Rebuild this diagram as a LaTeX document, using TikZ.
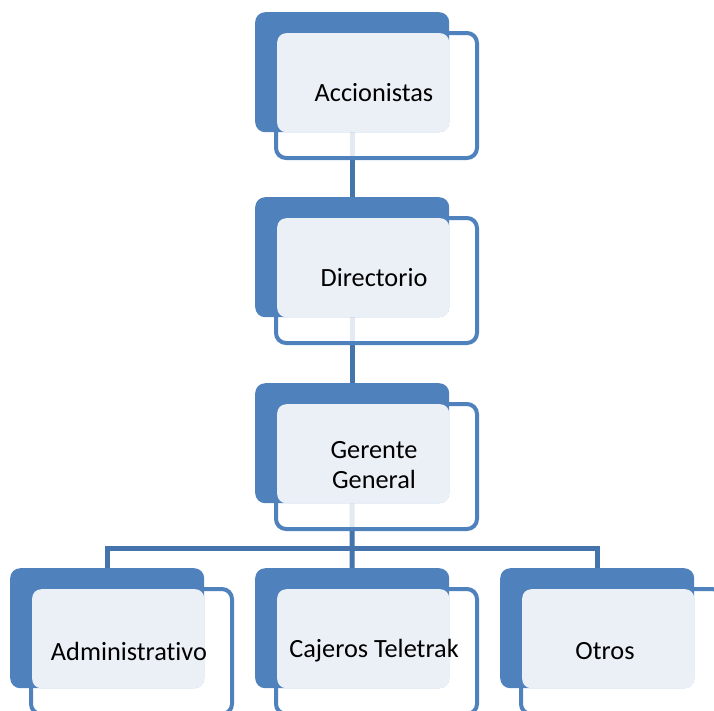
\documentclass[tikz,border=0pt]{standalone}
\usepackage{fontspec}
\setmainfont{Carlito}[Ligatures={NoCommon}]
\usetikzlibrary{backgrounds}
\definecolor{accent}{HTML}{4F81BD}
\definecolor{connc}{HTML}{4573AB}
\definecolor{lightc}{HTML}{EBF0F7}
\tikzset{
  darkbox/.style={fill=accent, draw=none, rounded corners=10pt, anchor=north west, inner sep=0pt, minimum width=194pt, minimum height=120pt},
  framebox/.style={fill=white, fill opacity=0.85, draw=accent, line width=4pt, rounded corners=10pt, anchor=north west, inner sep=0pt, minimum width=201pt, minimum height=125pt},
  lightbox/.style={fill=lightc, draw=none, rounded corners=9pt, anchor=north west, inner sep=0pt, minimum width=172pt, minimum height=99pt},
  label/.style={font=\fontsize{26.3}{30}\selectfont, text=black, align=center, inner sep=0pt},
  conn/.style={draw=connc, line width=5pt, line join=miter}
}
\begin{document}
\begin{tikzpicture}[x=1pt, y=-1pt]
\useasboundingbox (0,0) rectangle (714,710);
\clip (0,0) rectangle (714,710);
% frames (drawn first so dark boxes lie over them)
\node[framebox] (f1) at (274,31) {};
\node[framebox] (f2) at (274,216) {};
\node[framebox] (f3) at (274,402) {};
\node[framebox] (f4) at (29,587) {};
\node[framebox] (f5) at (274,587) {};
\node[framebox] (f6) at (519,587) {};
% dark boxes
\node[darkbox] (d1) at (255,12) {};
\node[darkbox] (d2) at (255,197) {};
\node[darkbox] (d3) at (255,383) {};
\node[darkbox] (d4) at (10,568) {};
\node[darkbox] (d5) at (255,568) {};
\node[darkbox] (d6) at (500,568) {};
% light boxes
\node[lightbox] (l1) at (277,33) {};
\node[lightbox] (l2) at (277,218) {};
\node[lightbox] (l3) at (277,404) {};
\node[lightbox] (l4) at (32,589) {};
\node[lightbox] (l5) at (277,589) {};
\node[lightbox] (l6) at (522,589) {};
% texts
\node[label] (t1) at (374,93) {Accionistas};
\node[label] (t2) at (374,278) {Directorio};
\node[label] (t3) at (374,465) {Gerente\\General};
\node[label] (t4) at (129,651) {Administrativo};
\node[label] (t5) at (374,651) {Cajeros Teletrak};
\node[label] (t6) at (605,651) {Otros};
% connectors behind
\begin{scope}[on background layer]
\coordinate (bus) at (352,548);
\draw[conn] (d1.south) -- (d2.north);
\draw[conn] (d2.south) -- (d3.north);
\draw[conn] (d3.south) -- (bus);
\draw[conn] (bus) -- (d5.north);
\draw[conn] (d4.north) |- (bus) -| (d6.north);
\end{scope}
\end{tikzpicture}
\end{document}
